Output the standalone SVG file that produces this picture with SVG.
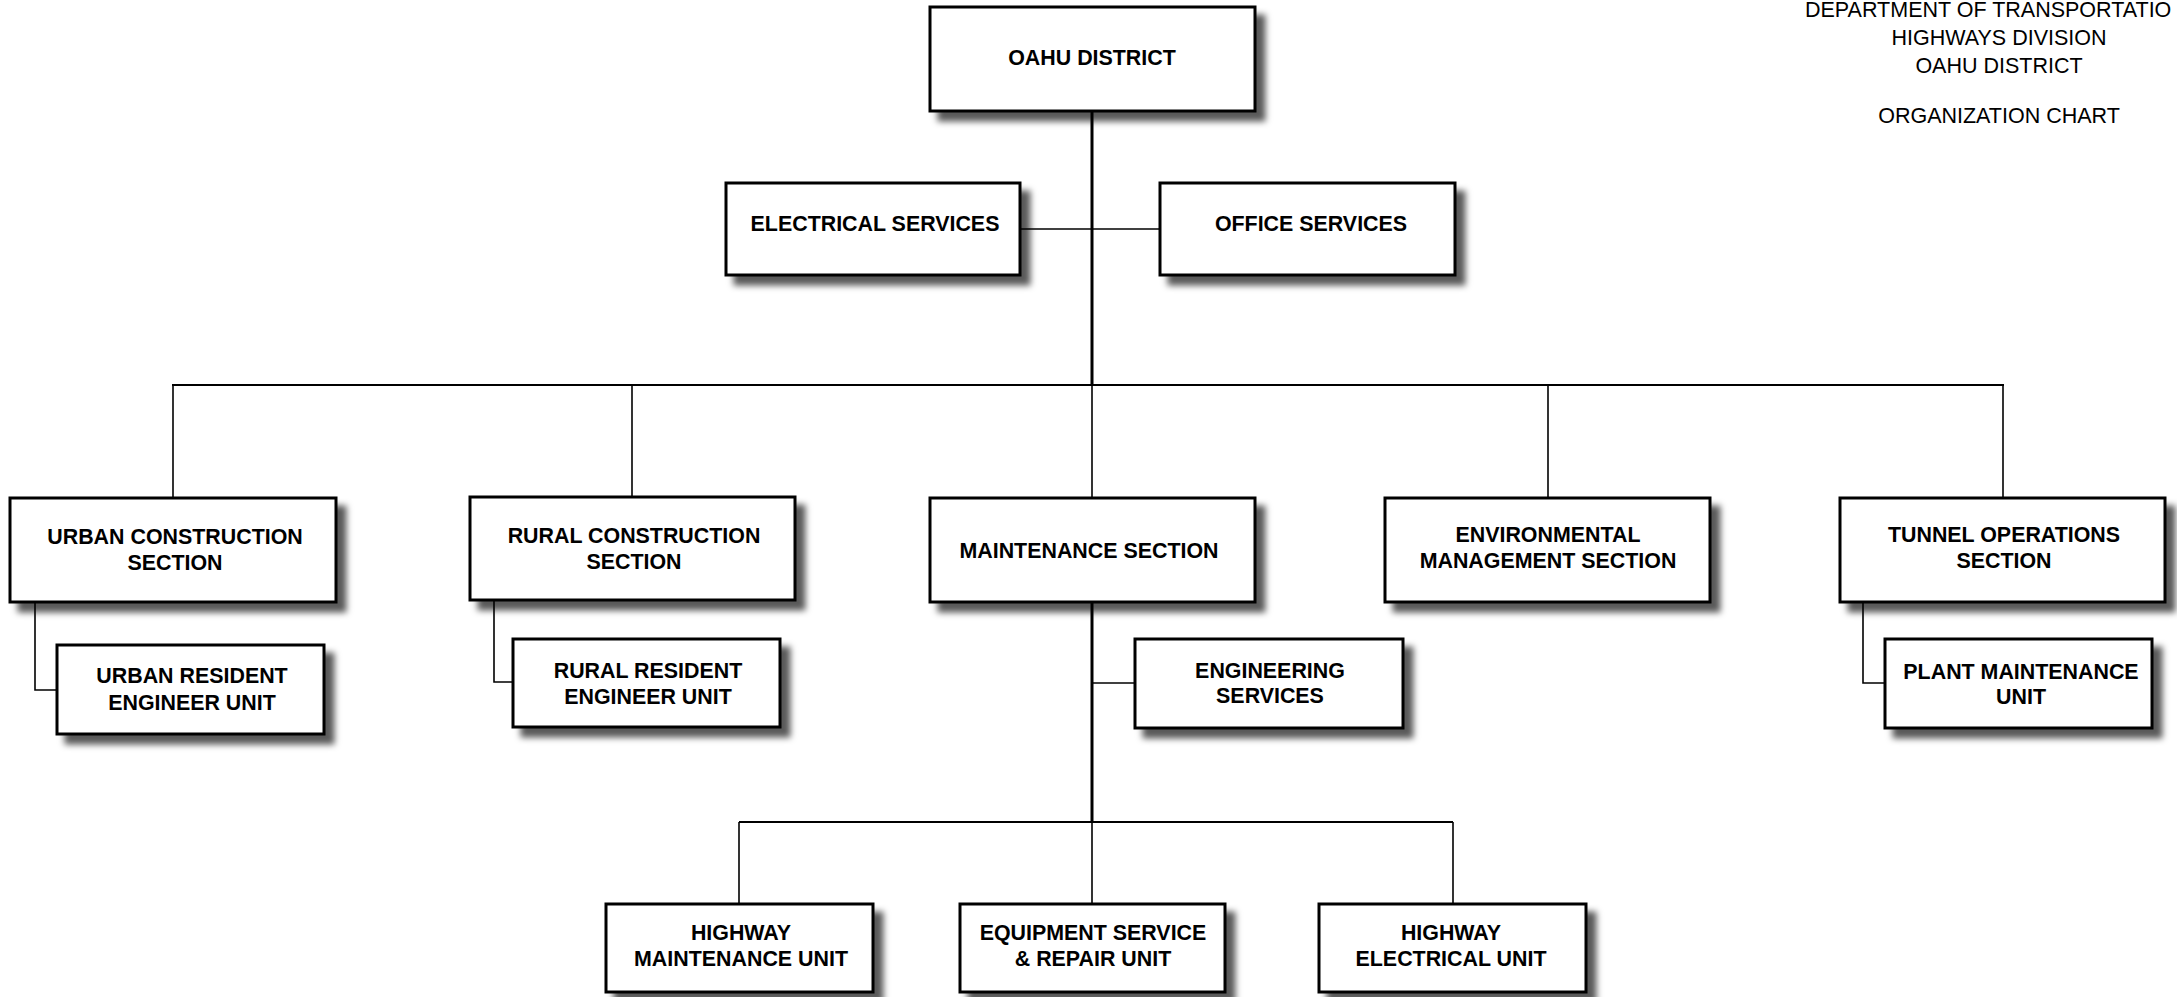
<svg xmlns="http://www.w3.org/2000/svg" width="2177" height="997" viewBox="0 0 2177 997">
<style>
.box{fill:#fff;stroke:#000;stroke-width:3;filter:url(#sh)}
.lbl{font-family:"Liberation Sans",Arial,sans-serif;font-weight:bold;font-size:21.4px;text-anchor:middle;fill:#000}
.title{font-family:"Liberation Sans",Arial,sans-serif;font-size:21.5px;fill:#000}
.thin{fill:none;stroke:#000;stroke-width:1.6}
.thick{fill:none;stroke:#000;stroke-width:3}
.mid{fill:none;stroke:#000;stroke-width:2.2}
</style>
<defs>
<filter id="sh" x="-10%" y="-20%" width="130%" height="150%">
<feDropShadow dx="9" dy="9" stdDeviation="3" flood-color="#000" flood-opacity="0.65"/>
</filter>
</defs>
<rect width="2177" height="997" fill="#fff"/>

<g id="title">
<text class="title" x="1805" y="17">DEPARTMENT OF TRANSPORTATIO</text>
<text class="title" x="1999" y="45" text-anchor="middle">HIGHWAYS DIVISION</text>
<text class="title" x="1999" y="73" text-anchor="middle">OAHU DISTRICT</text>
<text class="title" x="1999" y="123" text-anchor="middle">ORGANIZATION CHART</text>
</g>

<g id="connectors">
<line class="thick" x1="1092" y1="111" x2="1092" y2="385"/>
<line class="thin" x1="1020" y1="229" x2="1160" y2="229"/>
<line class="mid" x1="172" y1="385" x2="2004" y2="385"/>
<line class="thin" x1="173" y1="385" x2="173" y2="498"/>
<line class="thin" x1="632" y1="385" x2="632" y2="497"/>
<line class="thin" x1="1092" y1="385" x2="1092" y2="498"/>
<line class="thin" x1="1548" y1="385" x2="1548" y2="498"/>
<line class="thin" x1="2003" y1="385" x2="2003" y2="498"/>
<path class="thin" d="M35 602 V690 H57"/>
<path class="thin" d="M494 600 V682 H513"/>
<path class="thin" d="M1863 602 V683 H1885"/>
<line class="thick" x1="1092" y1="602" x2="1092" y2="822"/>
<line class="thin" x1="1092" y1="683" x2="1135" y2="683"/>
<line class="mid" x1="739" y1="822" x2="1453" y2="822"/>
<line class="thin" x1="739" y1="822" x2="739" y2="904"/>
<line class="thin" x1="1092" y1="822" x2="1092" y2="904"/>
<line class="thin" x1="1453" y1="822" x2="1453" y2="904"/>
</g>

<g id="oahu-district">
<rect class="box" x="930" y="7" width="325" height="104"/>
<text class="lbl" x="1092" y="65">OAHU DISTRICT</text>
</g>

<g id="electrical-services">
<rect class="box" x="726" y="183" width="294" height="92"/>
<text class="lbl" x="875" y="231">ELECTRICAL SERVICES</text>
</g>

<g id="office-services">
<rect class="box" x="1160" y="183" width="295" height="92"/>
<text class="lbl" x="1311" y="231">OFFICE SERVICES</text>
</g>

<g id="urban-construction">
<rect class="box" x="10" y="498" width="326" height="104"/>
<text class="lbl" x="175" y="544">URBAN CONSTRUCTION</text>
<text class="lbl" x="175" y="570">SECTION</text>
</g>

<g id="rural-construction">
<rect class="box" x="470" y="497" width="325" height="103"/>
<text class="lbl" x="634" y="543">RURAL CONSTRUCTION</text>
<text class="lbl" x="634" y="569">SECTION</text>
</g>

<g id="maintenance-section">
<rect class="box" x="930" y="498" width="325" height="104"/>
<text class="lbl" x="1089" y="558">MAINTENANCE SECTION</text>
</g>

<g id="environmental-management">
<rect class="box" x="1385" y="498" width="325" height="104"/>
<text class="lbl" x="1548" y="542">ENVIRONMENTAL</text>
<text class="lbl" x="1548" y="568">MANAGEMENT SECTION</text>
</g>

<g id="tunnel-operations">
<rect class="box" x="1840" y="498" width="325" height="104"/>
<text class="lbl" x="2004" y="542">TUNNEL OPERATIONS</text>
<text class="lbl" x="2004" y="568">SECTION</text>
</g>

<g id="urban-resident">
<rect class="box" x="57" y="645" width="267" height="89"/>
<text class="lbl" x="192" y="683">URBAN RESIDENT</text>
<text class="lbl" x="192" y="710">ENGINEER UNIT</text>
</g>

<g id="rural-resident">
<rect class="box" x="513" y="639" width="267" height="88"/>
<text class="lbl" x="648" y="678">RURAL RESIDENT</text>
<text class="lbl" x="648" y="704">ENGINEER UNIT</text>
</g>

<g id="engineering-services">
<rect class="box" x="1135" y="639" width="268" height="89"/>
<text class="lbl" x="1270" y="678">ENGINEERING</text>
<text class="lbl" x="1270" y="703">SERVICES</text>
</g>

<g id="plant-maintenance">
<rect class="box" x="1885" y="639" width="267" height="89"/>
<text class="lbl" x="2021" y="679">PLANT MAINTENANCE</text>
<text class="lbl" x="2021" y="704">UNIT</text>
</g>

<g id="highway-maintenance">
<rect class="box" x="606" y="904" width="267" height="88"/>
<text class="lbl" x="741" y="940">HIGHWAY</text>
<text class="lbl" x="741" y="966">MAINTENANCE UNIT</text>
</g>

<g id="equipment-service">
<rect class="box" x="960" y="904" width="265" height="88"/>
<text class="lbl" x="1093" y="940">EQUIPMENT SERVICE</text>
<text class="lbl" x="1093" y="966">&amp; REPAIR UNIT</text>
</g>

<g id="highway-electrical">
<rect class="box" x="1319" y="904" width="267" height="88"/>
<text class="lbl" x="1451" y="940">HIGHWAY</text>
<text class="lbl" x="1451" y="966">ELECTRICAL UNIT</text>
</g>
</svg>
